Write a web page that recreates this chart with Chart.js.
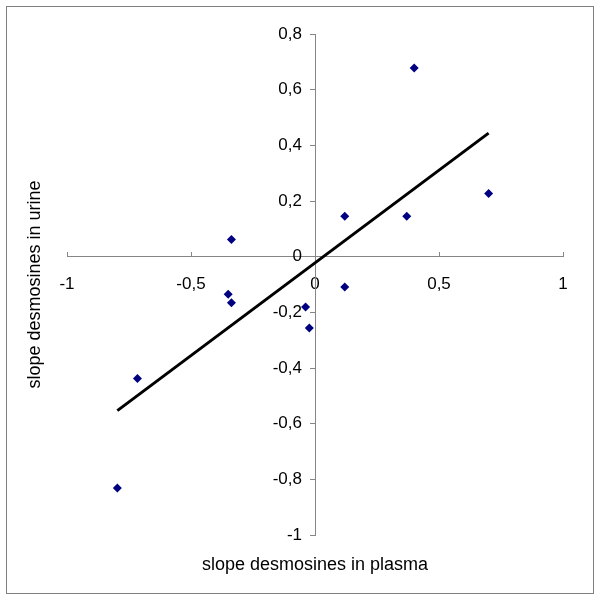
<!DOCTYPE html>
<html>
<head>
<meta charset="utf-8">
<script src="https://cdn.jsdelivr.net/npm/chart.js@4/dist/chart.umd.min.js"></script>
<style>
    html, body { margin: 0; padding: 0; background: #fff; }
    #wrap { width: 600px; height: 600px; }
</style>
</head>
<body>
<div id="wrap"><canvas id="chart" width="600" height="600"></canvas></div>
<script>
// values
var plasmaSlope = [0.40, 0.70, 0.12, 0.37, -0.337, 0.12, -0.35, -0.337, -0.038, -0.023, -0.716, -0.797];
var urineSlope = [0.678, 0.227, 0.145, 0.145, 0.062, -0.109, -0.135, -0.166, -0.181, -0.256, -0.438, -0.831];
var trendX = [-0.797, 0.70];
var trendY = [-0.553, 0.444];
var xTicks = [-1, -0.5, 0, 0.5, 1];
var yTicks = [-1, -0.8, -0.6, -0.4, -0.2, 0, 0.2, 0.4, 0.6, 0.8];

var xTitle = 'slope desmosines in plasma';
var yTitle = 'slope desmosines in urine';

function comma(v) {
    return String(Math.round(v * 10) / 10).replace('.', ',');
}

var points = plasmaSlope.map(function (x, i) { return {x: x, y: urineSlope[i]}; });
var trend = trendX.map(function (x, i) { return {x: x, y: trendY[i]}; });

var frameAndTitles = {
    id: 'frameAndTitles',
    beforeDraw: function (chart) {
        var ctx = chart.ctx;
        ctx.save();
        ctx.strokeStyle = '#7f7f7f';
        ctx.lineWidth = 1;
        ctx.strokeRect(6.5, 6.5, 587, 587);
        ctx.restore();
        // y labels sit right on the axis when it is placed at x=0, push them left of the ticks
        chart.scales.y.getLabelItems().forEach(function (item) {
            if (!item._moved) {
                item.options.translation[0] -= 13;
                item._moved = true;
            }
        });
    },
    afterDraw: function (chart) {
        var ctx = chart.ctx, a = chart.chartArea;
        ctx.save();
        ctx.fillStyle = '#000';
        ctx.font = '18px "Liberation Sans", Arial, sans-serif';
        ctx.textAlign = 'center';
        ctx.textBaseline = 'middle';
        ctx.fillText(xTitle, (a.left + a.right) / 2, a.bottom + 30);
        ctx.translate(35, (a.top + a.bottom) / 2);
        ctx.rotate(-Math.PI / 2);
        ctx.fillText(yTitle, 0, 0);
        ctx.restore();
    }
};

var tickFont = {family: '"Liberation Sans", Arial, sans-serif', size: 17};

new Chart(document.getElementById('chart').getContext('2d'), {
    type: 'scatter',
    data: {
        datasets: [{
            data: points,
            pointStyle: 'rectRot',
            pointRadius: 4.5,
            pointBorderWidth: 0,
            backgroundColor: '#000080',
            borderColor: '#000080'
        }, {
            type: 'line',
            data: trend,
            showLine: true,
            borderColor: '#000',
            borderWidth: 3,
            pointRadius: 0,
            fill: false
        }]
    },
    plugins: [frameAndTitles],
    options: {
        responsive: false,
        animation: false,
        layout: {padding: {left: 67, right: 37, top: 34, bottom: 65}},
        plugins: {legend: {display: false}, tooltip: {enabled: false}},
        scales: {
            x: {
                type: 'linear',
                position: {y: 0},
                min: -1, max: 1,
                afterBuildTicks: function (s) { s.ticks = xTicks.map(function (v) { return {value: v}; }); },
                ticks: {callback: comma, color: '#000', font: tickFont, padding: 22, maxRotation: 0, autoSkip: false},
                grid: {drawOnChartArea: false, tickLength: -5, tickColor: '#868686'},
                border: {color: '#868686'}
            },
            y: {
                type: 'linear',
                position: {x: 0},
                min: -1, max: 0.8,
                afterBuildTicks: function (s) { s.ticks = yTicks.map(function (v) { return {value: v}; }); },
                ticks: {callback: comma, color: '#000', font: tickFont, padding: 8, autoSkip: false},
                grid: {drawOnChartArea: false, tickLength: 5, tickColor: '#868686'},
                border: {color: '#868686'}
            }
        }
    }
});
</script>
</body>
</html>
